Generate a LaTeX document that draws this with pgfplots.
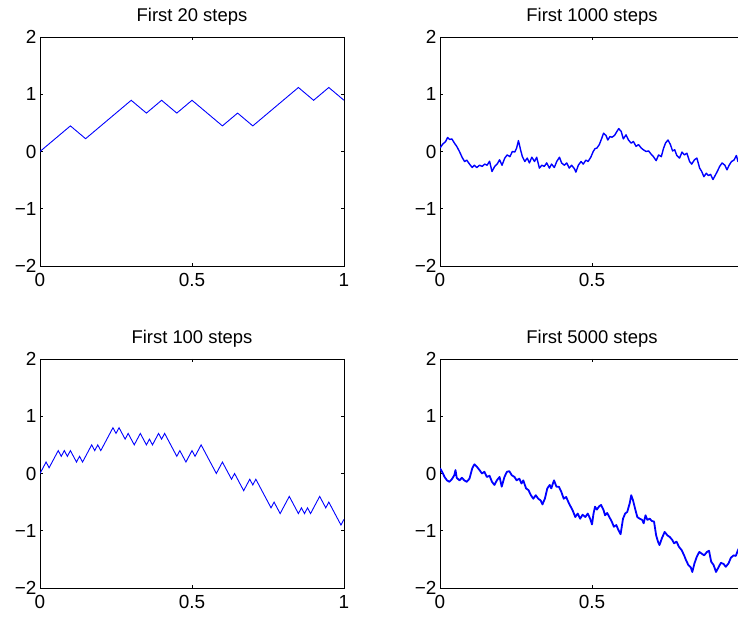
\documentclass[border=0pt]{standalone}
\usepackage{fontspec}
\setmainfont{Liberation Sans}
\usepackage{pgfplots}
\pgfplotsset{compat=1.18}

\pgfplotsset{
  walk/.style={
    scale only axis,
    width=304bp, height=229bp,
    anchor=south west,
    xmin=0, xmax=1, ymin=-2, ymax=2,
    xtick={0,0.5,1}, xticklabels={0,0.5,1},
    ytick={-2,-1,0,1,2}, yticklabels={−2,−1,0,1,2},
    tick align=inside,
    major tick length=3bp,
    axis line style={line width=0.8bp},
    every tick/.style={black, line width=0.6bp},
    tick label style={font=\fontsize{19}{22}\selectfont},
    xticklabel style={yshift=-4bp},
    title style={font=\fontsize{18.5}{22}\selectfont, at={(0.5,1)}, anchor=base, yshift=10bp},
  },
  % right column runs past the page edge, its "1" is not seen
  cut/.style={xtick={0,0.5}, xticklabels={0,0.5}},
}

\begin{document}
\begin{tikzpicture}

% first 20 steps
\begin{axis}[walk, at={(40bp,352bp)}, title={First 20 steps}]
\addplot[blue, line width=0.9bp] coordinates {
(0,0) (0.1,0.4472) (0.15,0.2236) (0.3,0.8944) (0.35,0.6708) (0.4,0.8944)
(0.45,0.6708) (0.5,0.8944) (0.6,0.4472) (0.65,0.6708) (0.7,0.4472)
(0.85,1.1180) (0.9,0.8944) (0.95,1.1180) (1,0.8944)
};
\end{axis}

% first 1000 steps
\begin{axis}[walk, cut, at={(440bp,352bp)}, title={First 1000 steps}]
\addplot[blue, line width=1.4bp, line join=round] coordinates {
(0,0.06) (0.009,0.13) (0.018,0.17) (0.025,0.245) (0.032,0.21) (0.039,0.22)
(0.047,0.15) (0.055,0.09) (0.064,0) (0.073,-0.105) (0.081,-0.175) (0.088,-0.15)
(0.097,-0.22) (0.106,-0.28) (0.113,-0.24) (0.121,-0.28) (0.130,-0.24) (0.139,-0.26)
(0.147,-0.22) (0.155,-0.24) (0.163,-0.17) (0.171,-0.35) (0.180,-0.26) (0.188,-0.22)
(0.196,-0.145) (0.204,-0.24) (0.213,-0.115) (0.221,-0.06) (0.230,-0.09) (0.238,0)
(0.246,-0.01) (0.252,0.06) (0.258,0.19) (0.265,0.03) (0.271,-0.09) (0.279,-0.175)
(0.287,-0.115) (0.294,-0.2) (0.302,-0.1) (0.311,-0.175) (0.318,-0.1) (0.327,-0.29)
(0.335,-0.24) (0.343,-0.26) (0.351,-0.2) (0.360,-0.29) (0.367,-0.22) (0.376,-0.28)
(0.384,-0.175) (0.393,-0.1) (0.400,-0.2) (0.409,-0.24) (0.417,-0.2) (0.425,-0.29)
(0.433,-0.24) (0.442,-0.3) (0.447,-0.36) (0.455,-0.24) (0.464,-0.175) (0.471,-0.22)
(0.480,-0.15) (0.487,-0.175) (0.496,-0.1) (0.504,0.0) (0.510,0.05) (0.516,0.06)
(0.524,0.12) (0.532,0.23) (0.538,0.32) (0.546,0.28) (0.552,0.2) (0.559,0.26)
(0.566,0.25) (0.574,0.28) (0.582,0.35) (0.588,0.40) (0.596,0.35) (0.603,0.22)
(0.612,0.29) (0.620,0.2) (0.629,0.145) (0.636,0.175) (0.645,0.09) (0.653,0.12)
(0.662,0.06) (0.669,0.03) (0.678,0) (0.686,0.01) (0.695,-0.05) (0.702,-0.09)
(0.711,-0.16) (0.719,-0.06) (0.728,-0.09) (0.735,0.05) (0.742,0.15) (0.750,0.2)
(0.758,0.12) (0.765,0.01) (0.772,0.03) (0.779,-0.07) (0.788,-0.115) (0.796,-0.01)
(0.804,-0.06) (0.812,-0.03) (0.821,-0.175) (0.828,-0.22) (0.837,-0.145) (0.845,-0.115)
(0.854,-0.29) (0.861,-0.35) (0.868,-0.44) (0.876,-0.38) (0.883,-0.42) (0.890,-0.4)
(0.898,-0.49) (0.906,-0.41) (0.912,-0.35) (0.920,-0.26) (0.928,-0.2) (0.937,-0.24)
(0.944,-0.32) (0.951,-0.24) (0.959,-0.175) (0.967,-0.15) (0.975,-0.07) (0.980,-0.175)
(0.986,-0.15) (1,-0.15)
};
\end{axis}

% first 100 steps
\begin{axis}[walk, at={(40bp,30bp)}, title={First 100 steps}]
\addplot[blue, line width=0.9bp] coordinates {
(0,0) (0.02,0.2) (0.03,0.1) (0.06,0.4) (0.07,0.3) (0.08,0.4) (0.09,0.3) (0.10,0.4)
(0.12,0.2) (0.13,0.3) (0.14,0.2) (0.17,0.5) (0.18,0.4) (0.19,0.5) (0.20,0.4)
(0.24,0.8) (0.25,0.7) (0.26,0.8) (0.28,0.6) (0.29,0.7) (0.31,0.5) (0.33,0.7)
(0.35,0.5) (0.36,0.6) (0.37,0.5) (0.39,0.7) (0.40,0.6) (0.41,0.7) (0.45,0.3)
(0.46,0.4) (0.48,0.2) (0.50,0.4) (0.51,0.3) (0.53,0.5) (0.58,0) (0.60,0.2)
(0.63,-0.1) (0.64,0) (0.67,-0.3) (0.69,-0.1) (0.70,-0.2) (0.71,-0.1) (0.76,-0.6)
(0.77,-0.5) (0.79,-0.7) (0.82,-0.4) (0.85,-0.7) (0.86,-0.6) (0.87,-0.7) (0.88,-0.6)
(0.89,-0.7) (0.92,-0.4) (0.94,-0.6) (0.95,-0.5) (0.99,-0.9) (1,-0.8)
};
\end{axis}

% first 5000 steps
\begin{axis}[walk, cut, at={(440bp,30bp)}, title={First 5000 steps}]
\addplot[blue, line width=1.8bp, line join=round] coordinates {
(0,0.09) (0.007,0.03) (0.015,-0.06) (0.023,-0.12) (0.031,-0.145) (0.039,-0.1)
(0.047,-0.03) (0.051,0.06) (0.055,-0.075) (0.064,-0.12) (0.072,-0.075) (0.080,-0.12)
(0.088,-0.145) (0.097,-0.09) (0.106,0.09) (0.113,0.16) (0.121,0.12) (0.130,0.06)
(0.138,0) (0.146,0.03) (0.154,-0.06) (0.163,-0.04) (0.171,-0.145) (0.179,-0.2)
(0.187,-0.12) (0.196,-0.06) (0.203,-0.23) (0.212,-0.06) (0.220,0.03) (0.228,0.04)
(0.236,-0.03) (0.245,-0.06) (0.252,-0.12) (0.261,-0.09) (0.268,-0.175) (0.274,-0.12)
(0.283,-0.26) (0.291,-0.29) (0.299,-0.38) (0.307,-0.44) (0.315,-0.38) (0.323,-0.44)
(0.331,-0.47) (0.337,-0.54) (0.345,-0.44) (0.353,-0.26) (0.361,-0.2) (0.366,-0.26)
(0.375,-0.12) (0.383,-0.23) (0.391,-0.23) (0.399,-0.32) (0.407,-0.44) (0.415,-0.41)
(0.424,-0.52) (0.436,-0.64) (0.445,-0.76) (0.453,-0.70) (0.461,-0.79) (0.469,-0.72)
(0.478,-0.76) (0.486,-0.70) (0.494,-0.79) (0.500,-0.89) (0.505,-0.70) (0.510,-0.58)
(0.516,-0.63) (0.524,-0.57) (0.530,-0.55) (0.538,-0.64) (0.543,-0.73) (0.550,-0.69)
(0.557,-0.76) (0.565,-0.84) (0.572,-0.93) (0.580,-0.90) (0.587,-0.99) (0.594,-1.06)
(0.602,-0.79) (0.609,-0.70) (0.616,-0.67) (0.624,-0.52) (0.629,-0.38) (0.635,-0.47)
(0.643,-0.64) (0.649,-0.76) (0.657,-0.79) (0.665,-0.81) (0.670,-0.87) (0.676,-0.73)
(0.682,-0.81) (0.690,-0.79) (0.697,-0.83) (0.704,-0.84) (0.711,-1.08) (0.717,-1.19)
(0.722,-1.25) (0.730,-1.13) (0.739,-1.02) (0.748,-1.08) (0.756,-1.11) (0.764,-1.16)
(0.770,-1.22) (0.778,-1.19) (0.786,-1.28) (0.795,-1.34) (0.803,-1.43) (0.809,-1.51)
(0.817,-1.60) (0.825,-1.64) (0.830,-1.72) (0.837,-1.57) (0.845,-1.45) (0.853,-1.37)
(0.861,-1.40) (0.869,-1.43) (0.878,-1.37) (0.885,-1.35) (0.892,-1.54) (0.900,-1.60)
(0.908,-1.72) (0.916,-1.64) (0.924,-1.56) (0.933,-1.58) (0.940,-1.63) (0.949,-1.57)
(0.957,-1.47) (0.966,-1.43) (0.973,-1.44) (0.980,-1.34) (0.986,-1.28) (1,-1.22)
};
\end{axis}

\pgfresetboundingbox
\useasboundingbox (0bp,0bp) rectangle (738bp,618bp);
\end{tikzpicture}
\end{document}
